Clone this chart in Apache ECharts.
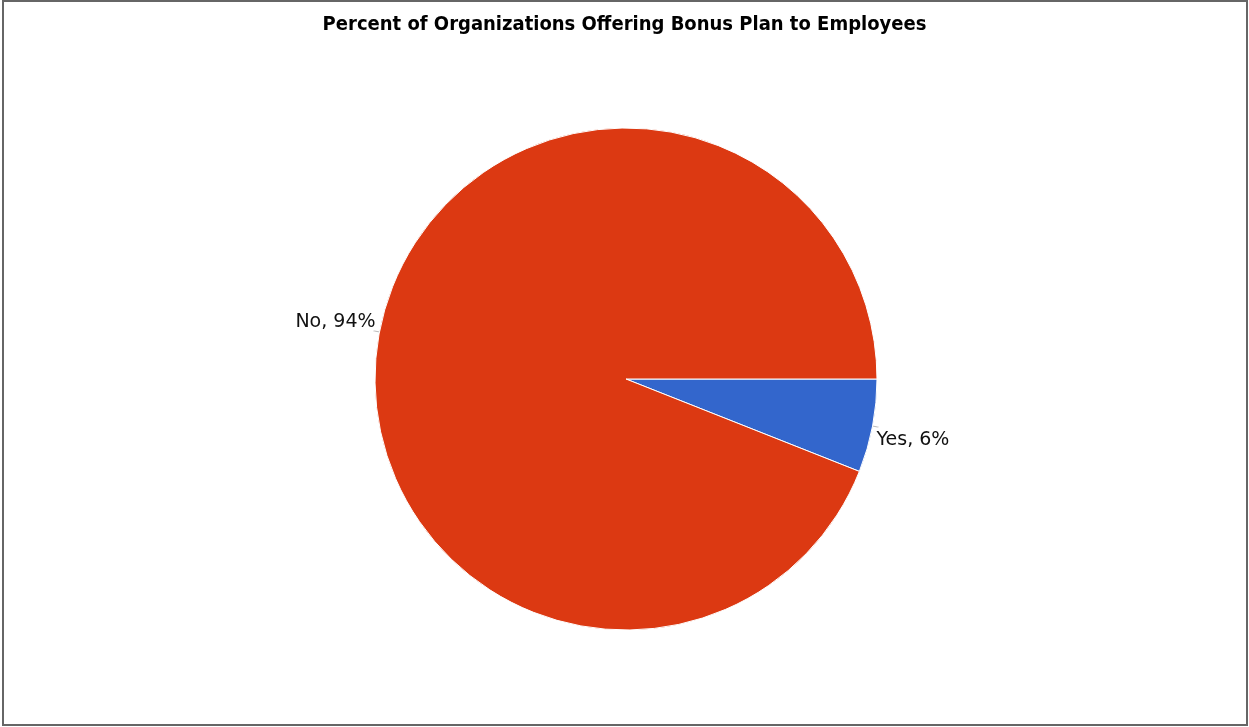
<!DOCTYPE html>
<html>
<head>
<meta charset="utf-8">
<script src="https://cdn.jsdelivr.net/npm/echarts@6/dist/echarts.min.js"></script>
<style>
  html, body { margin: 0; padding: 0; background: #fff; }
  #chart { width: 1249px; height: 727px; }
</style>
</head>
<body>
<div id="chart"></div>
<script>
// Survey answers and their shares (percent of organizations)
const categories = ['Yes', 'No'];
const shares = [6, 94];
const sliceColors = ['#3366cc', '#dc3912'];
// Small nudges of each slice label relative to its leader line
const labelNudge = [{ dx: -4, dy: 13 }, { dx: 4, dy: -9 }];

const chart = echarts.init(document.getElementById('chart'));

chart.setOption({
  animation: false,
  backgroundColor: '#ffffff',
  title: {
    text: 'Percent of Organizations Offering Bonus Plan to Employees',
    left: 'center',
    top: 10,
    textStyle: {
      fontFamily: 'DejaVu Sans Condensed',
      fontWeight: 'bold',
      fontSize: 20,
      color: '#000'
    }
  },
  graphic: [{
    type: 'rect',
    shape: { x: 3, y: 1, width: 1244, height: 724 },
    style: { fill: 'none', stroke: '#666666', lineWidth: 2 },
    silent: true
  }],
  series: [{
    type: 'pie',
    center: [626, 379],
    radius: 251,
    startAngle: 0,
    clockwise: true,
    data: categories.map((name, i) => ({
      name: name,
      value: shares[i],
      itemStyle: { color: sliceColors[i] }
    })),
    itemStyle: { borderColor: '#ffffff', borderWidth: 1 },
    label: {
      show: true,
      formatter: p => p.name + ', ' + p.value + '%',
      fontFamily: 'DejaVu Sans',
      fontSize: 19,
      color: '#111',
      distanceToLabelLine: 2
    },
    labelLine: {
      show: true,
      length: 5,
      length2: 1,
      lineStyle: { color: '#bbbbbb', width: 1 }
    },
    labelLayout: p => labelNudge[p.dataIndex]
  }]
});
</script>
</body>
</html>
